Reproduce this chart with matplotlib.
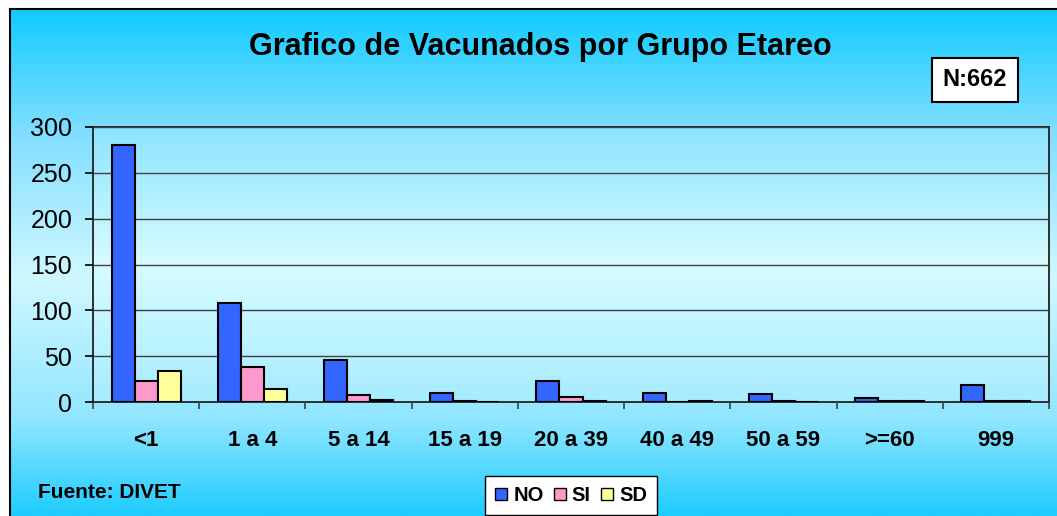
import numpy as np
import matplotlib
matplotlib.use('Agg')
import matplotlib.pyplot as plt
from matplotlib.colors import LinearSegmentedColormap
from matplotlib.patches import Patch

plt.rcParams['font.family'] = ['Liberation Sans', 'DejaVu Sans']

grupos = ['<1', '1 a 4', '5 a 14', '15 a 19', '20 a 39', '40 a 49', '50 a 59', '>=60', '999']
no_vac = [280, 108, 46, 10, 23, 10, 9, 4, 19]
si_vac = [23, 38, 8, 1, 6, 0, 1, 1, 1]
sd_vac = [34, 14, 2, 0, 1, 1, 0, 1, 1]
series = ['NO', 'SI', 'SD']
colores = ['#3366FF', '#FF99CC', '#FFFF99']

W, H = 1057, 516
fig = plt.figure(figsize=(W / 100, H / 100), dpi=100)
fig.patch.set_facecolor('white')

# fondo degradado del area del grafico
bg = fig.add_axes([10 / W, 0, 1 - 10 / W, 1 - 9 / H])
cmap_bg = LinearSegmentedColormap.from_list('bg', [(0, '#10CCFF'), (0.24, '#80DEFF'), (0.53, '#D0F8FF'),
                                                   (0.81, '#90E6FF'), (1, '#1ECCFF')])
bg.imshow(np.linspace(0, 1, 256).reshape(-1, 1), cmap=cmap_bg, aspect='auto', extent=[0, 1, 0, 1],
          origin='upper')
bg.set_xlim(0, 1); bg.set_ylim(0, 1)
bg.set_xticks([]); bg.set_yticks([])
for s in ['bottom', 'right']:
    bg.spines[s].set_visible(False)
bg.spines['left'].set_linewidth(1.5)
bg.spines['top'].set_linewidth(1.5)

ax = fig.add_axes([93 / W, 1 - 402 / H, (1049 - 93) / W, (402 - 127) / H])
cmap_ax = LinearSegmentedColormap.from_list('ax', [(0, '#8CE4FF'), (0.5, '#D8FCFF'), (1, '#A6ECFF')])
ax.imshow(np.linspace(0, 1, 256).reshape(-1, 1), cmap=cmap_ax, aspect='auto', extent=[0, 1, 0, 1],
          transform=ax.transAxes, origin='upper', zorder=0)

x = np.arange(len(grupos))
w = 0.217
for i, (vals, col) in enumerate(zip([no_vac, si_vac, sd_vac], colores)):
    ax.bar(x + (i - 1) * w, vals, w, color=col, edgecolor='black', linewidth=1.5, zorder=3)

ax.set_xlim(-0.5, len(grupos) - 0.5)
ax.set_ylim(0, 300)
ax.set_yticks(range(0, 301, 50))
ax.yaxis.grid(True, color='#404040', linewidth=1, zorder=1)
ax.set_axisbelow(False)
ax.tick_params(axis='y', direction='out', length=6, width=1.2, labelsize=18, pad=9)
ax.set_xticks(x)
ax.set_xticklabels(grupos, fontsize=16, fontweight='bold')
ax.tick_params(axis='x', length=0, pad=20)
ax.set_xticks(np.arange(len(grupos) + 1) - 0.5, minor=True)
ax.tick_params(axis='x', which='minor', direction='out', length=5, width=1.2, color='#404040')
for s in ax.spines.values():
    s.set_linewidth(1.3)
    s.set_color('#202020')

fig.text(540 / W, 1 - 47 / H, 'Grafico de Vacunados por Grupo Etareo', ha='center', va='center',
         fontsize=22, fontweight='bold')
fig.text(975 / W, 1 - 80 / H, 'N:662', ha='center', va='center', fontsize=17, fontweight='bold',
         bbox=dict(boxstyle='square,pad=0.45', facecolor='white', edgecolor='black', linewidth=1.5))
fig.text(38 / W, 1 - 493 / H, 'Fuente: DIVET', ha='left', va='center', fontsize=15, fontweight='bold')

handles = [Patch(facecolor=c, edgecolor='black', linewidth=1) for c in colores]
leg = fig.legend(handles, series, loc='upper left', bbox_to_anchor=(485 / W, 1 - 476 / H), ncol=3,
                 frameon=True, fancybox=False, handlelength=0.6, handleheight=0.6, handletextpad=0.3,
                 columnspacing=0.5, borderpad=0.5, borderaxespad=0, prop={'weight': 'bold', 'size': 14.5})
leg.get_frame().set_edgecolor('black')
leg.get_frame().set_linewidth(1)
leg.get_frame().set_facecolor('white')
leg.get_frame().set_alpha(1)

fig.savefig('out.png', dpi=100)
